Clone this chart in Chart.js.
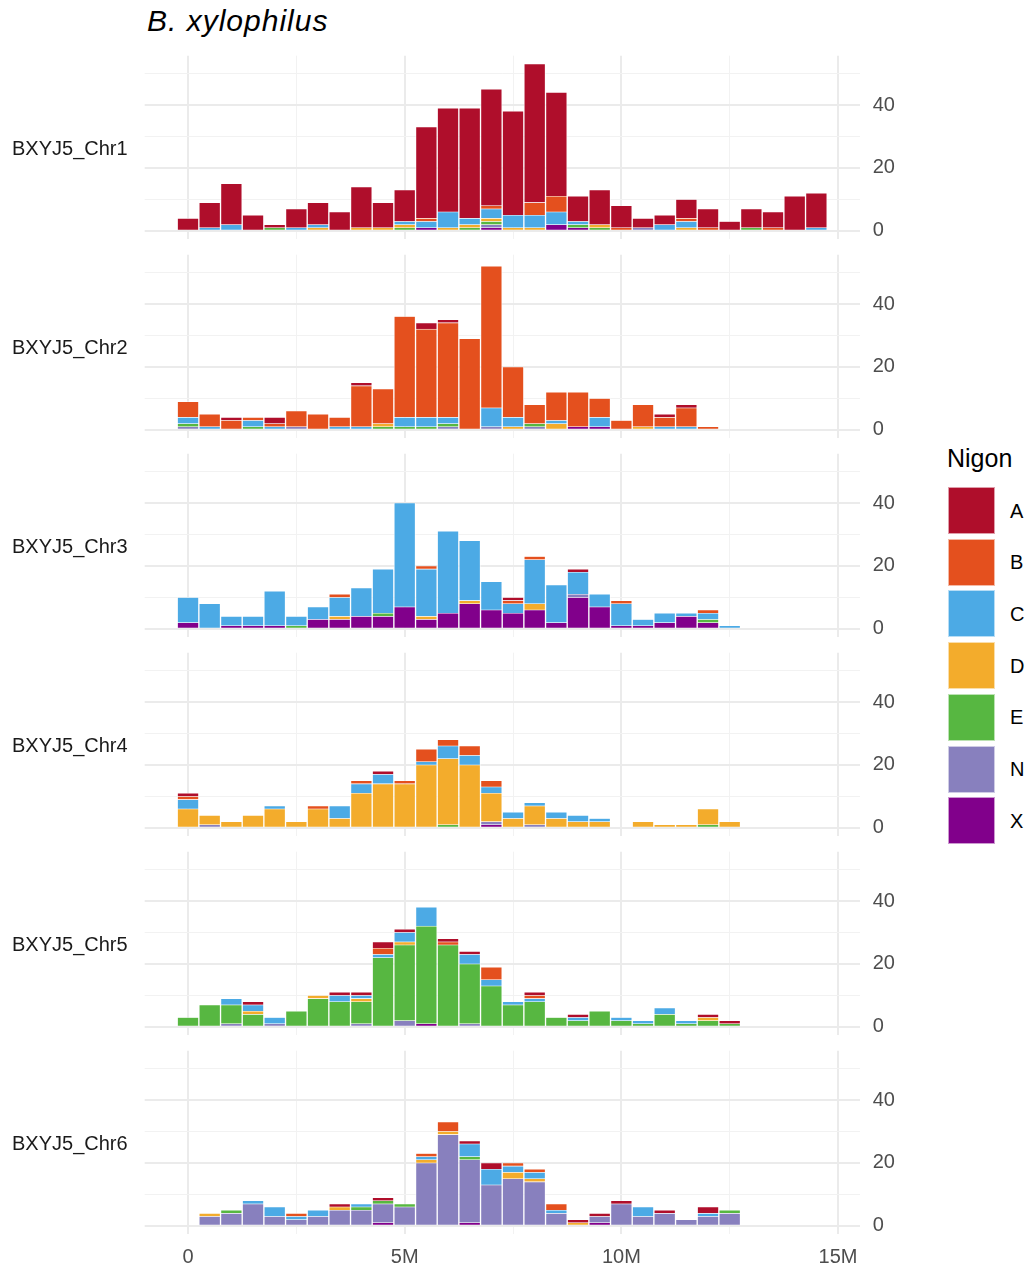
<!DOCTYPE html>
<html>
<head>
<meta charset="utf-8">
<title>B. xylophilus Nigon histograms</title>
<script src="https://cdn.jsdelivr.net/npm/chart.js@4.4.1/dist/chart.umd.min.js"></script>
<style>
  body { margin: 0; background: #fff; font-family: "Liberation Sans", Arial, sans-serif; }
  #page { position: relative; width: 1027px; height: 1270px; overflow: hidden; background: #fff; }
  #title { position: absolute; left: 147px; top: 3px; font-size: 30px; line-height: 36px; font-style: italic; letter-spacing: 1px; color: #000; white-space: nowrap; }
  .strip { position: absolute; left: 12px; font-size: 20px; line-height: 24px; color: #1a1a1a; white-space: nowrap; }
  .panel { position: absolute; left: 0; }
  #legendTitle { position: absolute; left: 947px; top: 443px; font-size: 25px; line-height: 30px; color: #000; }
  .key { position: absolute; left: 948px; width: 47px; height: 47px; box-sizing: border-box; border: 1px solid rgba(255,255,255,0.6); }
  .keyLabel { position: absolute; left: 1010px; font-size: 20px; line-height: 24px; color: #000; }
</style>
</head>
<body>
<div id="page">
  <div id="title">B. xylophilus</div>
  <div id="legendTitle">Nigon</div>
</div>
<script>
const NIGON = ['A', 'B', 'C', 'D', 'E', 'N', 'X'];
const NIGON_COLORS = ['#af0e2b', '#e4501e', '#4caae5', '#f3ac2c', '#57b741', '#8880be', '#81008b'];
const CHROMOSOMES = ['BXYJ5_Chr1', 'BXYJ5_Chr2', 'BXYJ5_Chr3', 'BXYJ5_Chr4', 'BXYJ5_Chr5', 'BXYJ5_Chr6'];
const BIN_MB = 0.5;
const X_TICKS = [0, 2.5, 5, 7.5, 10, 12.5, 15];
const Y_TICKS = [0, 10, 20, 30, 40, 50];

// counts per 0.5M bin (bin k is centred on k * 0.5M)
const chr1_A = [4, 8, 13, 5, 1, 6, 7, 6, 13, 8, 10, 29, 33, 35, 37, 33, 44, 33, 8, 11, 7, 3, 3, 6, 6, 3, 6, 5, 11, 11];
const chr1_B = [0, 0, 0, 0, 0, 0, 0, 0, 0, 0, 0, 1, 0, 0, 1, 0, 4, 5, 0, 0, 1, 0, 0, 1, 1, 0, 0, 1, 0, 0];
const chr1_C = [0, 1, 2, 0, 0, 1, 1, 0, 0, 0, 1, 2, 5, 2, 3, 4, 4, 4, 1, 0, 0, 0, 2, 2, 0, 0, 0, 0, 0, 1];
const chr1_D = [0, 0, 0, 0, 0, 0, 1, 0, 1, 1, 1, 0, 1, 1, 1, 1, 1, 0, 0, 1, 0, 0, 0, 1, 0, 0, 0, 0, 0, 0];
const chr1_E = [0, 0, 0, 0, 1, 0, 0, 0, 0, 0, 1, 0, 0, 1, 1, 0, 0, 0, 1, 1, 0, 0, 0, 0, 0, 0, 1, 0, 0, 0];
const chr1_N = [0, 0, 0, 0, 0, 0, 0, 0, 0, 0, 0, 0, 0, 0, 1, 0, 0, 0, 0, 0, 0, 1, 0, 0, 0, 0, 0, 0, 0, 0];
const chr1_X = [0, 0, 0, 0, 0, 0, 0, 0, 0, 0, 0, 1, 0, 0, 1, 0, 0, 2, 1, 0, 0, 0, 0, 0, 0, 0, 0, 0, 0, 0];

const chr2_A = [0, 0, 1, 0, 2, 0, 0, 0, 1, 0, 0, 2, 1, 0, 0, 0, 0, 0, 0, 0, 0, 0, 1, 1, 0];
const chr2_B = [5, 4, 3, 1, 1, 5, 5, 3, 13, 11, 32, 28, 30, 29, 45, 16, 6, 9, 11, 6, 3, 7, 3, 6, 1];
const chr2_C = [2, 1, 0, 2, 1, 0, 0, 1, 1, 0, 3, 3, 2, 0, 6, 3, 0, 1, 0, 3, 0, 0, 1, 1, 0];
const chr2_D = [0, 0, 0, 0, 0, 0, 0, 0, 0, 1, 0, 0, 0, 0, 0, 1, 0, 2, 0, 0, 0, 1, 0, 0, 0];
const chr2_E = [1, 0, 0, 1, 0, 0, 0, 0, 0, 1, 1, 1, 1, 0, 0, 0, 1, 0, 0, 0, 0, 0, 0, 0, 0];
const chr2_N = [1, 0, 0, 0, 0, 1, 0, 0, 0, 0, 0, 0, 1, 0, 1, 0, 1, 0, 0, 0, 0, 0, 0, 0, 0];
const chr2_X = [0, 0, 0, 0, 0, 0, 0, 0, 0, 0, 0, 0, 0, 0, 0, 0, 0, 0, 1, 1, 0, 0, 0, 0, 0];

const chr3_A = [0, 0, 0, 0, 0, 0, 0, 0, 0, 0, 0, 0, 0, 0, 0, 1, 0, 0, 1, 0, 0, 0, 0, 0, 0, 0];
const chr3_B = [0, 0, 0, 0, 0, 0, 0, 1, 0, 0, 0, 1, 0, 0, 0, 1, 1, 0, 0, 0, 1, 0, 0, 0, 1, 0];
const chr3_C = [8, 8, 3, 3, 11, 3, 4, 6, 9, 14, 33, 15, 26, 19, 9, 3, 14, 12, 7, 4, 7, 2, 3, 1, 2, 1];
const chr3_D = [0, 0, 0, 0, 0, 0, 0, 1, 0, 0, 0, 1, 0, 1, 0, 0, 2, 0, 0, 0, 0, 0, 0, 0, 0, 0];
const chr3_E = [0, 0, 0, 0, 0, 1, 0, 0, 0, 1, 0, 0, 0, 0, 0, 0, 0, 0, 0, 0, 0, 0, 0, 0, 1, 0];
const chr3_N = [0, 0, 0, 0, 0, 0, 0, 0, 0, 0, 0, 0, 0, 0, 0, 0, 0, 0, 1, 0, 0, 0, 0, 0, 0, 0];
const chr3_X = [2, 0, 1, 1, 1, 0, 3, 3, 4, 4, 7, 3, 5, 8, 6, 5, 6, 2, 10, 7, 1, 1, 2, 4, 2, 0];

const chr4_A = [1, 0, 0, 0, 0, 0, 0, 0, 0, 1, 0, 0, 0, 0, 0, 0, 0, 0, 0, 0, 0, 0, 0, 0, 0, 0];
const chr4_B = [1, 0, 0, 0, 0, 0, 1, 0, 1, 0, 1, 4, 2, 3, 2, 0, 0, 0, 0, 0, 0, 0, 0, 0, 0, 0];
const chr4_C = [3, 0, 0, 0, 1, 0, 0, 4, 3, 3, 0, 1, 4, 3, 2, 2, 1, 2, 2, 1, 0, 0, 0, 0, 0, 0];
const chr4_D = [6, 3, 2, 4, 6, 2, 6, 3, 11, 14, 14, 20, 21, 20, 9, 3, 6, 3, 2, 2, 0, 2, 1, 1, 5, 2];
const chr4_E = [0, 0, 0, 0, 0, 0, 0, 0, 0, 0, 0, 0, 1, 0, 0, 0, 0, 0, 0, 0, 0, 0, 0, 0, 1, 0];
const chr4_N = [0, 1, 0, 0, 0, 0, 0, 0, 0, 0, 0, 0, 0, 0, 1, 0, 1, 0, 0, 0, 0, 0, 0, 0, 0, 0];
const chr4_X = [0, 0, 0, 0, 0, 0, 0, 0, 0, 0, 0, 0, 0, 0, 1, 0, 0, 0, 0, 0, 0, 0, 0, 0, 0, 0];

const chr5_A = [0, 0, 0, 1, 0, 0, 0, 1, 1, 2, 1, 0, 1, 1, 0, 0, 1, 0, 1, 0, 0, 0, 0, 0, 1, 1];
const chr5_B = [0, 0, 0, 0, 0, 0, 0, 0, 0, 2, 0, 0, 1, 0, 4, 0, 1, 0, 0, 0, 0, 0, 0, 0, 0, 0];
const chr5_C = [0, 0, 2, 2, 2, 0, 0, 2, 1, 1, 3, 6, 0, 3, 2, 1, 1, 0, 1, 0, 1, 1, 2, 1, 0, 0];
const chr5_D = [0, 0, 0, 1, 0, 0, 1, 0, 1, 0, 1, 0, 0, 0, 0, 0, 0, 0, 0, 0, 0, 0, 0, 0, 1, 0];
const chr5_E = [3, 7, 6, 4, 0, 5, 9, 8, 7, 22, 24, 31, 26, 19, 13, 7, 8, 3, 2, 5, 2, 1, 4, 1, 2, 1];
const chr5_N = [0, 0, 1, 0, 1, 0, 0, 0, 1, 0, 2, 0, 0, 1, 0, 0, 0, 0, 0, 0, 0, 0, 0, 0, 0, 0];
const chr5_X = [0, 0, 0, 0, 0, 0, 0, 0, 0, 0, 0, 1, 0, 0, 0, 0, 0, 0, 0, 0, 0, 0, 0, 0, 0, 0];

const chr6_A = [0, 0, 0, 0, 0, 0, 0, 1, 0, 1, 0, 0, 0, 1, 2, 0, 0, 0, 1, 1, 1, 0, 1, 0, 2, 0];
const chr6_B = [0, 0, 0, 0, 0, 1, 0, 0, 0, 0, 0, 1, 3, 0, 0, 1, 1, 2, 0, 0, 0, 0, 0, 0, 0, 0];
const chr6_C = [0, 0, 0, 1, 3, 1, 2, 0, 1, 0, 0, 1, 0, 4, 5, 2, 2, 1, 0, 0, 0, 3, 0, 0, 1, 0];
const chr6_D = [0, 1, 0, 0, 0, 0, 0, 1, 0, 0, 0, 1, 1, 0, 0, 2, 1, 0, 1, 0, 0, 0, 0, 0, 0, 0];
const chr6_E = [0, 0, 1, 0, 0, 0, 0, 0, 1, 1, 1, 0, 0, 1, 0, 0, 0, 0, 0, 0, 0, 0, 0, 0, 0, 1];
const chr6_N = [0, 3, 4, 7, 3, 2, 3, 5, 5, 6, 6, 20, 29, 20, 13, 15, 14, 4, 0, 2, 7, 3, 4, 2, 3, 4];
const chr6_X = [0, 0, 0, 0, 0, 0, 0, 0, 0, 1, 0, 0, 0, 1, 0, 0, 0, 0, 0, 1, 0, 0, 0, 0, 0, 0];

const COUNTS = [
  [chr1_A, chr1_B, chr1_C, chr1_D, chr1_E, chr1_N, chr1_X],
  [chr2_A, chr2_B, chr2_C, chr2_D, chr2_E, chr2_N, chr2_X],
  [chr3_A, chr3_B, chr3_C, chr3_D, chr3_E, chr3_N, chr3_X],
  [chr4_A, chr4_B, chr4_C, chr4_D, chr4_E, chr4_N, chr4_X],
  [chr5_A, chr5_B, chr5_C, chr5_D, chr5_E, chr5_N, chr5_X],
  [chr6_A, chr6_B, chr6_C, chr6_D, chr6_E, chr6_N, chr6_X]
];

// layout (px)
const X_MIN = -1, X_MAX = 15.5;
const Y_MIN = -2.65, Y_MAX = 55.65;
const PLOT_LEFT = 144.7;
const CANVAS_W = 940;
const Y_AXIS_W = 80.3;
const PANEL_STEP = 199;
const CANVAS_TOP0 = 50;
const PAD_TOP = 5.7;
const PLOT_H = 183.6;
const BASE_H = 196;
const X_AXIS_H = 45;

const MAJOR_GRID = '#ebebeb';
const MINOR_GRID = '#f2f2f2';
const TICK_FONT = { family: '"Liberation Sans", Arial, sans-serif', size: 20 };

const page = document.getElementById('page');

function gridColor(majorStep) {
  return (ctx) => (ctx.tick && ctx.tick.value % majorStep === 0 ? MAJOR_GRID : MINOR_GRID);
}
function gridWidth(majorStep) {
  return (ctx) => (ctx.tick && ctx.tick.value % majorStep === 0 ? 2 : 1);
}

function makePanel(idx) {
  const isLast = idx === CHROMOSOMES.length - 1;
  const top = CANVAS_TOP0 + idx * PANEL_STEP;
  const height = BASE_H + (isLast ? X_AXIS_H : 0);

  const canvas = document.createElement('canvas');
  canvas.className = 'panel';
  canvas.width = CANVAS_W;
  canvas.height = height;
  canvas.style.top = top + 'px';
  page.appendChild(canvas);

  const strip = document.createElement('div');
  strip.className = 'strip';
  strip.textContent = CHROMOSOMES[idx];
  strip.style.top = (top + PAD_TOP + PLOT_H / 2 - 12) + 'px';
  page.appendChild(strip);

  // stack from the bottom: X, N, E, D, C, B, A
  const datasets = [];
  for (let k = NIGON.length - 1; k >= 0; k -= 1) {
    datasets.push({
      label: NIGON[k],
      data: COUNTS[idx][k].map((v, i) => ({ x: i * BIN_MB, y: v })),
      backgroundColor: NIGON_COLORS[k],
      borderColor: 'rgba(255, 255, 255, 0.6)',
      borderWidth: { top: 0.6, bottom: 0.6, left: 1, right: 1 },
      borderSkipped: false,
      barPercentage: 1,
      categoryPercentage: 1
    });
  }

  new Chart(canvas, {
    type: 'bar',
    data: { datasets },
    options: {
      responsive: false,
      animation: false,
      events: [],
      layout: {
        autoPadding: false,
        padding: { left: PLOT_LEFT, top: PAD_TOP, right: 0, bottom: BASE_H - PAD_TOP - PLOT_H }
      },
      plugins: { legend: { display: false }, tooltip: { enabled: false } },
      scales: {
        x: {
          type: 'linear',
          stacked: true,
          offset: false,
          bounds: 'data',
          min: X_MIN,
          max: X_MAX,
          afterBuildTicks: (scale) => { scale.ticks = X_TICKS.map((v) => ({ value: v })); },
          afterFit: (scale) => {
            scale.height = isLast ? X_AXIS_H : 0;
            scale.paddingLeft = 0;
            scale.paddingRight = 0;
          },
          grid: { offset: false, drawTicks: false, color: gridColor(5), lineWidth: gridWidth(5) },
          border: { display: false },
          ticks: {
            display: isLast,
            autoSkip: false,
            maxRotation: 0,
            padding: 11,
            color: '#4d4d4d',
            font: TICK_FONT,
            callback: (v) => (v % 5 === 0 ? (v === 0 ? '0' : v + 'M') : '')
          }
        },
        y: {
          position: 'right',
          stacked: true,
          bounds: 'data',
          min: Y_MIN,
          max: Y_MAX,
          afterBuildTicks: (scale) => { scale.ticks = Y_TICKS.map((v) => ({ value: v })); },
          afterFit: (scale) => {
            scale.width = Y_AXIS_W;
            scale.paddingTop = 0;
            scale.paddingBottom = 0;
          },
          grid: { drawTicks: false, color: gridColor(20), lineWidth: gridWidth(20) },
          border: { display: false },
          ticks: {
            padding: 13,
            color: '#4d4d4d',
            font: TICK_FONT,
            callback: (v) => (v % 20 === 0 ? String(v) : '')
          }
        }
      }
    }
  });
}

CHROMOSOMES.forEach((_, i) => makePanel(i));

// legend
const KEY_TOP = 487;
const KEY_STEP = 51.7;
NIGON.forEach((name, k) => {
  const key = document.createElement('div');
  key.className = 'key';
  key.style.top = (KEY_TOP + k * KEY_STEP) + 'px';
  key.style.background = NIGON_COLORS[k];
  page.appendChild(key);

  const label = document.createElement('div');
  label.className = 'keyLabel';
  label.textContent = name;
  label.style.top = (KEY_TOP + k * KEY_STEP + 23.5 - 12) + 'px';
  page.appendChild(label);
});
</script>
</body>
</html>
